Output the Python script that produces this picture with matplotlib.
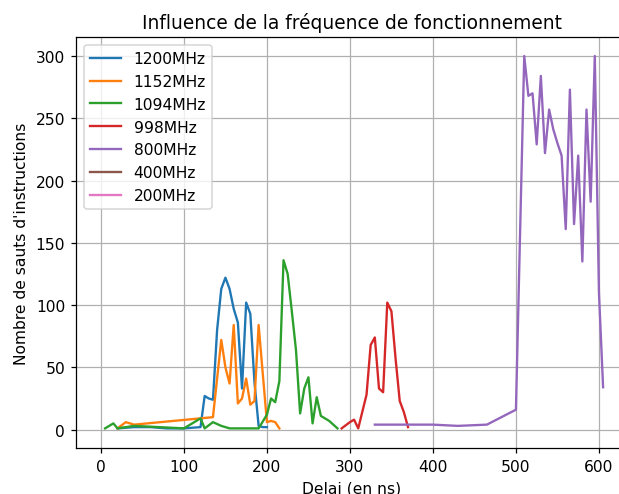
import matplotlib
matplotlib.use("Agg")
import matplotlib.pyplot as plt

# delai (ns) -> nombre de sauts, une serie par frequence
x_1200 = [20, 40, 60, 80, 100, 120, 125, 130, 135, 140, 145, 150, 155, 160, 165, 170, 175, 180, 185, 190, 195, 200]
y_1200 = [1, 2, 2, 1, 1, 2, 27, 25, 24, 80, 113, 122, 113, 97, 86, 33, 102, 93, 38, 3, 2, 2]

x_1152 = [20, 30, 40, 135, 145, 150, 155, 160, 165, 170, 175, 180, 185, 190, 200, 205, 210, 215]
y_1152 = [1, 6, 4, 10, 72, 50, 37, 84, 21, 25, 41, 20, 23, 84, 6, 7, 6, 1]

x_1094 = [5, 15, 20, 30, 40, 100, 120, 125, 135, 145, 155, 190, 200, 205, 210, 215, 220, 225, 230, 235, 240, 245, 250, 255, 260, 265, 275, 285]
y_1094 = [1, 5, 1, 2, 3, 1, 9, 1, 6, 3, 1, 1, 12, 25, 22, 39, 136, 125, 95, 64, 13, 33, 42, 5, 26, 11, 7, 1]

x_998 = [290, 300, 305, 310, 320, 325, 330, 335, 340, 345, 350, 355, 360, 365, 370]
y_998 = [1, 6, 8, 1, 28, 68, 74, 33, 30, 102, 95, 57, 23, 14, 2]

x_800 = [330, 400, 430, 465, 500, 510, 515, 520, 525, 530, 535, 540, 545, 550, 555, 560, 565, 570, 575, 580, 585, 590, 595, 600, 605]
y_800 = [4, 4, 3, 4, 16, 300, 268, 270, 229, 284, 222, 257, 241, 230, 220, 161, 273, 165, 220, 135, 257, 183, 300, 110, 34]

x_400, y_400 = [], []
x_200, y_200 = [], []

series = [
    (x_1200, y_1200, "1200MHz"),
    (x_1152, y_1152, "1152MHz"),
    (x_1094, y_1094, "1094MHz"),
    (x_998, y_998, "998MHz"),
    (x_800, y_800, "800MHz"),
    (x_400, y_400, "400MHz"),
    (x_200, y_200, "200MHz"),
]

DPI = 112
fig = plt.figure(figsize=(619 / DPI, 495 / DPI), dpi=DPI)
ax = fig.add_axes([76 / 619, 1 - 449.3 / 495, 552 / 619, 411 / 495])

for xs, ys, lab in series:
    ax.plot(xs, ys, label=lab)

ax.set_xlim(-30, 635)
ax.set_ylim(-15, 315)
ax.grid(True)
ax.set_title("Influence de la fréquence de fonctionnement")
ax.set_xlabel("Delai (en ns)")
ax.set_ylabel("Nombre de sauts d'instructions")
ax.legend(loc="upper left")

fig.savefig("out.png", dpi=DPI)
